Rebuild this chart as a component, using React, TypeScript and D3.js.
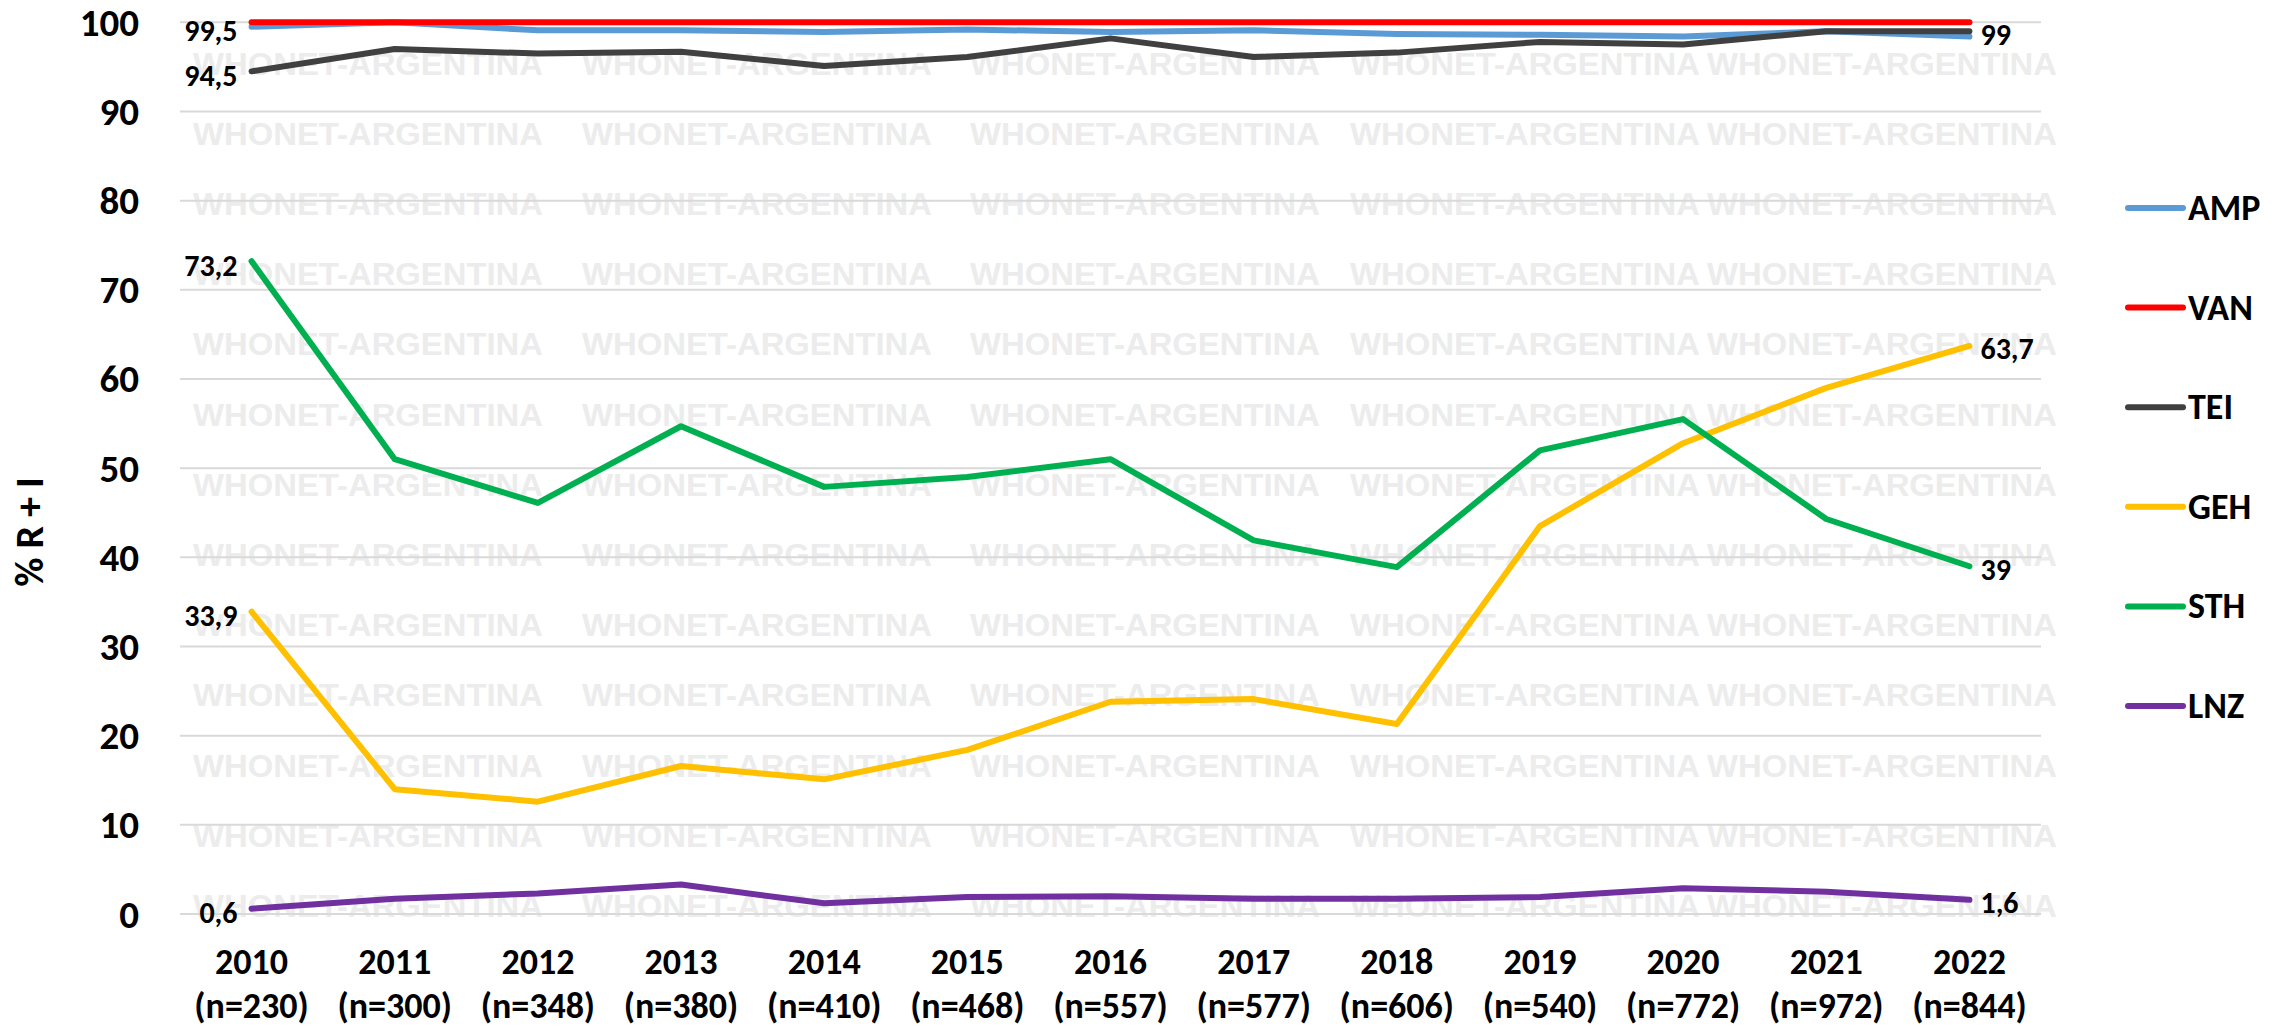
import React from "react";
import * as d3 from "d3";

const years = ["2010","2011","2012","2013","2014","2015","2016","2017","2018","2019","2020","2021","2022"];
const counts = ["(n=230)","(n=300)","(n=348)","(n=380)","(n=410)","(n=468)","(n=557)","(n=577)","(n=606)","(n=540)","(n=772)","(n=972)","(n=844)"];

const AMP = [99.5, 100, 99.1, 99.1, 98.9, 99.2, 98.9, 99.1, 98.7, 98.6, 98.4, 99.0, 98.4];
const VAN = [100, 100, 100, 100, 100, 100, 100, 100, 100, 100, 100, 100, 100];
const TEI = [94.5, 97.0, 96.5, 96.7, 95.1, 96.1, 98.2, 96.1, 96.6, 97.8, 97.5, 99.0, 99.0];
const GEH = [33.9, 14.0, 12.6, 16.6, 15.1, 18.4, 23.8, 24.1, 21.3, 43.5, 52.8, 59.0, 63.7];
const STH = [73.2, 51.0, 46.1, 54.7, 47.9, 49.0, 51.0, 41.9, 38.9, 52.0, 55.5, 44.3, 39.0];
const LNZ = [0.6, 1.7, 2.3, 3.3, 1.2, 1.9, 2.0, 1.7, 1.7, 1.9, 2.9, 2.5, 1.6];

const seriesNames = ["AMP", "VAN", "TEI", "GEH", "STH", "LNZ"];
const seriesColors = ["#5b9bd5", "#ff0000", "#404040", "#ffc000", "#00b050", "#7030a0"];
const seriesValues = [AMP, VAN, TEI, GEH, STH, LNZ];
const startLabelled = ["AMP", "TEI", "GEH", "STH", "LNZ"];
const endLabelled = ["TEI", "GEH", "STH", "LNZ"];

const yTicks = [0, 10, 20, 30, 40, 50, 60, 70, 80, 90, 100];
const watermarkText = "WHONET-ARGENTINA";
const watermarkCols = [193, 582, 970, 1350, 1707];

const W = 2276, H = 1027;
const FONT = "'Carlito', 'Open Sans', 'Noto Sans', sans-serif";

export default function App() {
  const x = d3.scaleBand<string>().domain(years).range([180, 2041]);
  const cx = (yr: string) => (x(yr) as number) + x.bandwidth() / 2;
  const y = d3.scaleLinear().domain([0, 100]).range([914, 22.3]);
  const fmt = (v: number) => String(v).replace(".", ",");

  const line = d3.line<number>()
    .x((_, i) => cx(years[i]))
    .y((v) => y(v));

  const rows = d3.range(13).map((k) => 64 + 70.2 * k);

  return (
    <svg width={W} height={H} style={{ position: "absolute", left: 0, top: 0, background: "#fff" }}>
      <rect width={W} height={H} fill="#fff" />
      {/* watermark */}
      <g fontFamily="'Liberation Sans', Arial, sans-serif" fontWeight="bold" fontSize={31} fill="#ececec">
        {rows.map((ry, ri) =>
          watermarkCols.map((wx, ci) => (
            <text key={`${ri}-${ci}`} x={wx} y={ry} dominantBaseline="central" textLength={350} lengthAdjust="spacingAndGlyphs">
              {watermarkText}
            </text>
          ))
        )}
      </g>
      {/* gridlines */}
      <g>
        {yTicks.map((t) => (
          <line key={t} x1={180} x2={2041} y1={y(t)} y2={y(t)} stroke="#d9d9d9" strokeWidth={2} />
        ))}
      </g>
      {/* y tick labels */}
      <g fontFamily={FONT} fontWeight="bold" fontSize={39} fill="#000" textAnchor="end">
        {yTicks.map((t) => (
          <text key={t} x={139} y={y(t)} dominantBaseline="central">{t}</text>
        ))}
      </g>
      {/* axis title */}
      <text
        transform={`translate(29,532) rotate(-90)`}
        fontFamily={FONT}
        fontWeight="bold"
        fontSize={40}
        textAnchor="middle"
        dominantBaseline="central"
      >
        % R + I
      </text>
      {/* x labels */}
      <g fontFamily={FONT} fontWeight="bold" fontSize={36} fill="#000" textAnchor="middle">
        {years.map((yr, i) => (
          <g key={yr}>
            <text x={cx(yr)} y={962} dominantBaseline="central">{yr}</text>
            <text x={cx(yr)} y={1006} dominantBaseline="central">{counts[i]}</text>
          </g>
        ))}
      </g>
      {/* series lines */}
      <g fill="none" strokeLinejoin="round" strokeLinecap="round">
        {seriesNames.map((name, si) => (
          <path key={name} d={line(seriesValues[si]) || ""} stroke={seriesColors[si]} strokeWidth={6} />
        ))}
      </g>
      {/* data labels */}
      <g fontFamily={FONT} fontWeight="bold" fontSize={30} fill="#000">
        {seriesNames.map((name, si) => {
          const vals = seriesValues[si];
          const out = [];
          if (startLabelled.includes(name)) {
            out.push(
              <text key={name + "s"} x={cx(years[0]) - 14} y={y(vals[0]) + 4} textAnchor="end" dominantBaseline="central">
                {fmt(vals[0])}
              </text>
            );
          }
          if (endLabelled.includes(name)) {
            const last = vals.length - 1;
            out.push(
              <text key={name + "e"} x={cx(years[last]) + 11} y={y(vals[last]) + 3} textAnchor="start" dominantBaseline="central">
                {fmt(vals[last])}
              </text>
            );
          }
          return out;
        })}
      </g>
      {/* legend */}
      <g>
        {seriesNames.map((name, si) => {
          const ly = 208 + 99.6 * si;
          return (
            <g key={name}>
              <line x1={2128} x2={2183} y1={ly} y2={ly} stroke={seriesColors[si]} strokeWidth={6} strokeLinecap="round" />
              <text x={2188} y={ly} fontFamily={FONT} fontWeight="bold" fontSize={36} dominantBaseline="central">{name}</text>
            </g>
          );
        })}
      </g>
    </svg>
  );
}
